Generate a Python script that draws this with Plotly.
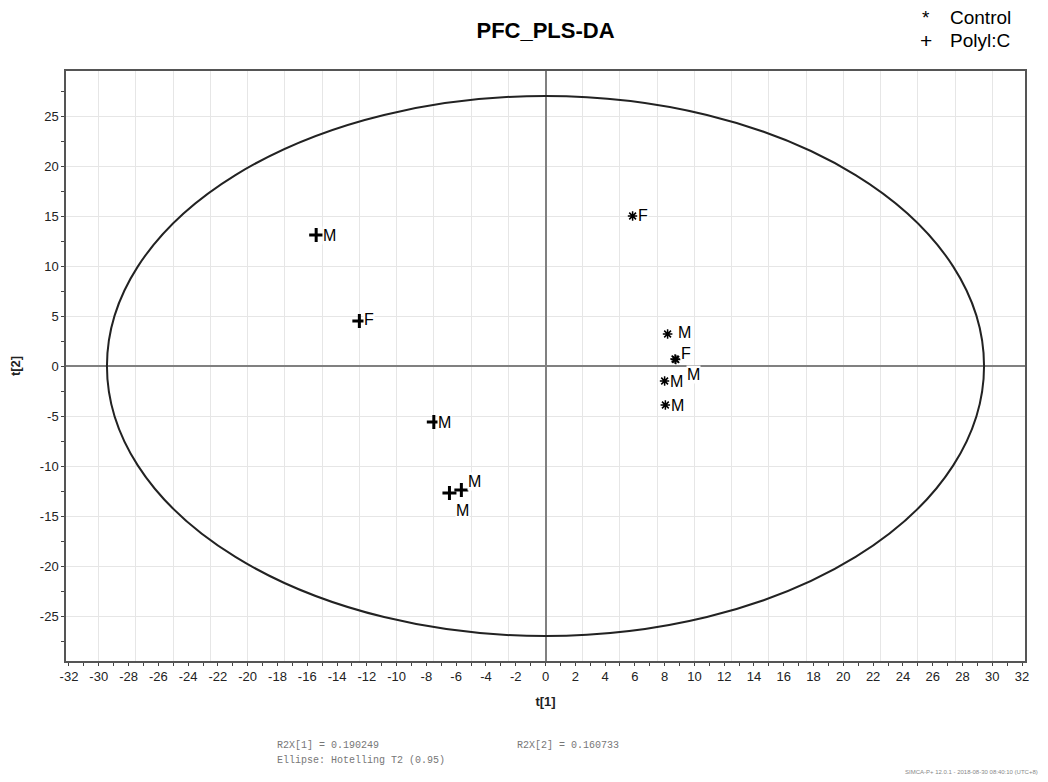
import plotly.graph_objects as go

# ---- data ----
control_t1 = [5.85, 8.2, 8.7, 8.0, 8.05, 8.75]
control_t2 = [15.0, 3.2, 0.7, -1.5, -3.9, 0.65]
control_sex = ["F", "M", "F", "M", "M", "M"]

polyic_t1 = [-15.4, -12.5, -7.5, -6.45, -5.65]
polyic_t2 = [13.1, 4.5, -5.6, -12.7, -12.4]
polyic_sex = ["M", "F", "M", "M", "M"]

# Hotelling T2 (0.95) ellipse semi-axes
ellipse_a = 29.45
ellipse_b = 27.0

x_ticks = list(range(-32, 33, 2))
y_ticks = list(range(-25, 26, 5))
x_ticktext = [str(v) for v in x_ticks]
y_ticktext = [str(v) for v in y_ticks]

# label offsets (pixels)
control_off = [(10, 1), (17, 2), (11, 6), (12, 0), (12, 0), (18, -15)]
polyic_off = [(13, 0), (10, 2), (11, 0), (13, -17), (13, 9)]

FONT = "Liberation Sans, Arial, sans-serif"

fig = go.Figure()

fig.add_trace(go.Scatter(
    x=control_t1, y=control_t2, mode="markers", name="Control",
    marker=dict(symbol="asterisk-open", size=8, color="black",
                line=dict(color="black", width=1.5)),
    showlegend=False, cliponaxis=False))
fig.add_trace(go.Scatter(
    x=polyic_t1, y=polyic_t2, mode="markers", name="Polyl:C",
    marker=dict(symbol="cross-thin-open", size=10, color="black",
                line=dict(color="black", width=3)),
    showlegend=False, cliponaxis=False))
# empty trace to create the overlay grid axis
fig.add_trace(go.Scatter(x=[], y=[], xaxis="x2", yaxis="y",
                         showlegend=False, hoverinfo="skip"))

# ellipse
fig.add_shape(type="circle", xref="x", yref="y",
              x0=-ellipse_a, x1=ellipse_a, y0=-ellipse_b, y1=ellipse_b,
              line=dict(color="#222222", width=2))

annotations = []
for xs, ys, labs, offs in [(control_t1, control_t2, control_sex, control_off),
                           (polyic_t1, polyic_t2, polyic_sex, polyic_off)]:
    for x, y, lab, (dx, dy) in zip(xs, ys, labs, offs):
        annotations.append(dict(
            x=x, y=y, xref="x", yref="y", text=lab, showarrow=False,
            xshift=dx, yshift=dy, xanchor="center", yanchor="middle",
            bgcolor="white", borderpad=0,
            font=dict(family=FONT, size=16, color="black")))

# legend texts
annotations += [
    dict(x=0.897, y=1.0915, xref="paper", yref="paper", text="*", showarrow=False,
         xanchor="center", yanchor="middle", font=dict(family=FONT, size=19, color="black")),
    dict(x=0.920, y=1.0915, xref="paper", yref="paper", text="Control", showarrow=False,
         xanchor="left", yanchor="middle", font=dict(family=FONT, size=19, color="black")),
    dict(x=0.897, y=1.0525, xref="paper", yref="paper", text="+", showarrow=False,
         xanchor="center", yanchor="middle", font=dict(family=FONT, size=21, color="black")),
    dict(x=0.920, y=1.0525, xref="paper", yref="paper", text="Polyl:C", showarrow=False,
         xanchor="left", yanchor="middle", font=dict(family=FONT, size=19, color="black")),
]

# footer texts
MONO = "Liberation Mono, Courier New, monospace"
annotations += [
    dict(x=0.218, y=-0.1424, xref="paper", yref="paper", text="R2X[1] = 0.190249",
         showarrow=False, xanchor="left", yanchor="middle",
         font=dict(family=MONO, size=10, color="#777777")),
    dict(x=0.468, y=-0.1424, xref="paper", yref="paper", text="R2X[2] = 0.160733",
         showarrow=False, xanchor="left", yanchor="middle",
         font=dict(family=MONO, size=10, color="#777777")),
    dict(x=0.218, y=-0.1678, xref="paper", yref="paper", text="Ellipse: Hotelling T2 (0.95)",
         showarrow=False, xanchor="left", yanchor="middle",
         font=dict(family=MONO, size=10, color="#777777")),
    dict(x=1.0156, y=-0.188, xref="paper", yref="paper",
         text="SIMCA-P+ 12.0.1 - 2018-08-30 08:40:10 (UTC+8)",
         showarrow=False, xanchor="right", yanchor="middle",
         font=dict(family=FONT, size=6, color="#888888")),
]

fig.update_layout(
    width=1048, height=782,
    margin=dict(l=58, r=31, t=63, b=129, autoexpand=False),
    paper_bgcolor="white", plot_bgcolor="white",
    title=dict(text="<b>PFC_PLS-DA</b>", x=0.5129, xanchor="center",
               y=0.972, yanchor="middle",
               font=dict(family=FONT, size=22, color="black")),
    xaxis=dict(
        range=[-32.2, 32.2], tickmode="array", tickvals=x_ticks, ticktext=x_ticktext,
        ticks="outside", ticklen=3, tickcolor="#444",
        showgrid=False, automargin=False,
        minor=dict(dtick=1, tick0=0, ticks="outside", ticklen=3,
                   tickcolor="#444", showgrid=False),
        zeroline=True, zerolinecolor="#808080", zerolinewidth=2,
        showline=True, mirror=True, linecolor="#555555", linewidth=1.5,
        tickfont=dict(family=FONT, size=13, color="#222222"),
        title=dict(text="<b>t[1]</b>", standoff=14,
                   font=dict(family=FONT, size=13, color="#222222")),
    ),
    xaxis2=dict(
        overlaying="x", matches="x", range=[-32.2, 32.2], automargin=False,
        dtick=2.5, tick0=0, showgrid=True, gridcolor="#e6e6e6", gridwidth=1,
        showticklabels=False, ticks="", showline=False, zeroline=False,
    ),
    yaxis=dict(
        range=[-29.5, 29.5], tickmode="array", tickvals=y_ticks, ticktext=y_ticktext,
        ticks="outside", ticklen=3, tickcolor="#444",
        showgrid=True, gridcolor="#e6e6e6", gridwidth=1, automargin=False,
        minor=dict(dtick=2.5, tick0=0, ticks="outside", ticklen=3,
                   tickcolor="#444", showgrid=False),
        zeroline=True, zerolinecolor="#808080", zerolinewidth=2,
        showline=True, mirror=True, linecolor="#555555", linewidth=1.5,
        tickfont=dict(family=FONT, size=13, color="#222222"),
        title=dict(text="<b>t[2]</b>", standoff=16,
                   font=dict(family=FONT, size=13, color="#222222")),
    ),
    annotations=annotations,
)

fig.write_html("out.html")
